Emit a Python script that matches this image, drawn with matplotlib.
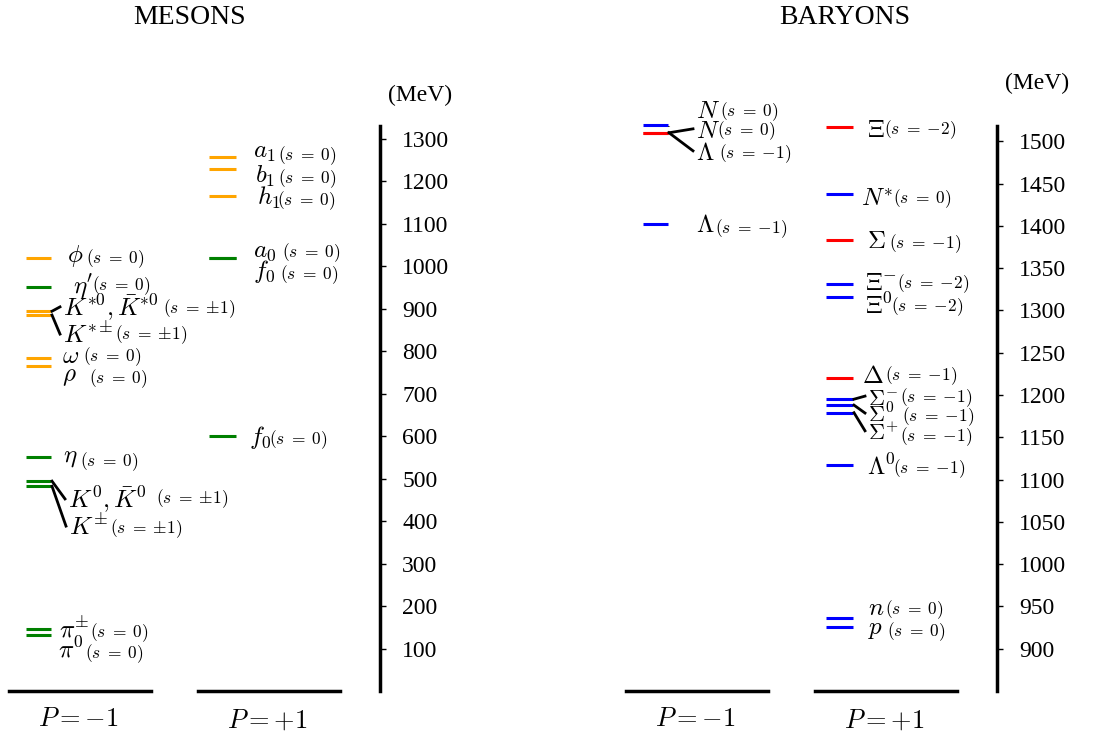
import matplotlib
matplotlib.use("Agg")
import matplotlib.pyplot as plt

plt.rcParams['mathtext.fontset'] = 'cm'
plt.rcParams['font.family'] = 'Liberation Serif'

# ---- meson spectrum (MeV) ----
meson_sym = [r"\phi", r"\eta'", r"K^{*0},\bar{K}^{*0}", r"K^{*\pm}", r"\omega", r"\rho",
             r"\eta", r"K^0,\bar{K}^0", r"K^{\pm}", r"\pi^{\pm}", r"\pi^0",
             r"a_1", r"b_1", r"h_1", r"a_0", r"f_0", r"f_0"]
meson_s = ["0", "0", r"\pm1", r"\pm1", "0", "0", "0", r"\pm1", r"\pm1", "0", "0",
           "0", "0", "0", "0", "0", "0"]
meson_mass = [1020, 950, 894, 885, 785, 766, 552, 494, 482, 147, 131,
              1258, 1228, 1166, 1019, 1019, 600]
meson_color = ['orange', 'green', 'orange', 'orange', 'orange', 'orange',
               'green', 'green', 'green', 'green', 'green',
               'orange', 'orange', 'orange', 'green', 'green', 'green']
meson_parity = [-1] * 11 + [1] * 6

# ---- baryon spectrum (MeV) ----
baryon_sym = ["N", "N", r"\Lambda", r"\Lambda", r"\Xi", "N^{*}", r"\Sigma", r"\Xi^{-}",
              r"\Xi^{0}", r"\Delta", r"\Sigma^{-}", r"\Sigma^{0}", r"\Sigma^{+}",
              r"\Lambda^{0}", "n", "p"]
baryon_s = ["0", "0", "-1", "-1", "-2", "0", "-1", "-2", "-2", "-1", "-1", "-1", "-1",
            "-1", "0", "0"]
baryon_mass = [1519, 1510, 1510, 1402, 1517, 1438, 1383, 1331, 1316, 1220,
               1195, 1188, 1179, 1117, 936, 926]
baryon_color = ['blue', 'red', 'red', 'blue', 'red', 'blue', 'red', 'blue', 'blue', 'red',
                'blue', 'blue', 'blue', 'blue', 'blue', 'blue']
baryon_parity = [-1] * 4 + [1] * 12

# label layout: (symbol x, baseline in MeV, strangeness x, strangeness raise [px],
#                symbol size, leader line?)
meson_labels = [(67, 1010, 86, -1, 18, 0), (73, 937, 92, 3, 18, 0),
                (63, 883, 163, 3, 18, 1), (63, 819, 115, 4, 18, 1),
                (62, 772, 83, 2, 18, 0), (62, 730, 89, -2, 18, 0),
                (63, 539, 80, -4, 18, 0), (68, 431, 156, 5, 18, 1),
                (69, 367, 110, 2, 18, 1), (59, 127, 90, 0, 18, 0),
                (58, 78, 85, 0, 18, 0),
                (253, 1255, 278, -2, 18, 0), (255, 1196, 278, 0, 18, 0),
                (257, 1144, 277, 0, 18, 0), (253, 1022, 282, 0, 18, 0),
                (253, 972, 280, -1, 18, 0), (249, 581, 269, 0, 18, 0)]
baryon_labels = [(79, 1527, 103, 2, 18, 1), (79, 1504, 100, 3, 18, 1),
                 (79, 1478, 102, 2, 18, 1), (79, 1393, 98, -1, 18, 0),
                 (250, 1505, 267, 3, 18, 0), (244, 1423, 276, 3, 18, 0),
                 (250, 1374, 272, 0, 18, 0), (248, 1324, 280, 2, 18, 0),
                 (248, 1296, 274, 3, 18, 0), (245, 1214, 268, 3, 18, 0),
                 (251, 1188, 283, 3, 16, 1), (251, 1168, 285, 1, 16, 1),
                 (251, 1147, 283, -1, 16, 1), (250, 1105, 276, 2, 18, 0),
                 (251, 940, 268, 1, 18, 0), (251, 917, 270, -2, 18, 0)]

columns = {-1: (26, 51), 1: (209, 236)}
bases = [(9, 151, r"$P=-1$"), (198, 340, r"$P=+1$")]

W, H = 1101, 733
AX_H = 565
fig = plt.figure(figsize=(W / 100, H / 100), dpi=100)


def panel(left, ylim, ticks, syms, strange, mass, color, parity, labels,
          title, title_x, unit_y):
    ax = fig.add_axes([left / W, 42 / H, 380 / W, AX_H / H])
    ax.set_xlim(0, 380)
    ax.set_ylim(*ylim)
    per_px = (ylim[1] - ylim[0]) / AX_H
    for s in ['left', 'top', 'bottom']:
        ax.spines[s].set_visible(False)
    ax.spines['right'].set_linewidth(2.5)
    ax.yaxis.tick_right()
    ax.set_yticks(ticks)
    ax.tick_params(axis='y', direction='out', length=4, width=1, labelsize=17, pad=12)
    ax.set_xticks([])
    for sym, s, m, c, p, lab in zip(syms, strange, mass, color, parity, labels):
        lx, ly, sx, dy, size, lead = lab
        x0, x1 = columns[p]
        ax.plot([x0, x1], [m, m], color=c, lw=2.2, solid_capstyle='butt', clip_on=False)
        ax.text(lx, ly, "$%s$" % sym, fontsize=size, va='baseline', ha='left')
        ax.text(sx, ly + dy * per_px, r"$(s\;=\;{%s})$" % s, fontsize=12.5,
                va='baseline', ha='left')
        if lead:
            ax.plot([x1 + 1, lx - 3], [m, ly + 9 * per_px], color='black', lw=2)
    for x0, x1, txt in bases:
        ax.plot([x0, x1], [ylim[0], ylim[0]], color='black', lw=2.5, clip_on=False)
        ax.text((x0 + x1) / 2 - 2, ylim[0] - 17 * per_px, txt, fontsize=19,
                ha='center', va='top')
    fig.text(title_x / W, 1 - 18 / H, title, fontsize=20, ha='center', va='center')
    fig.text((left + 420) / W, 1 - unit_y / H, "(MeV)", fontsize=17,
             ha='center', va='center')
    return ax


panel(0, (0, 1330), range(100, 1301, 100), meson_sym, meson_s, meson_mass, meson_color,
      meson_parity, meson_labels, "MESONS", 190, 95)
panel(617, (850, 1518), range(900, 1501, 50), baryon_sym, baryon_s, baryon_mass,
      baryon_color, baryon_parity, baryon_labels, "BARYONS", 845, 83)

fig.savefig("out.png", dpi=100)
